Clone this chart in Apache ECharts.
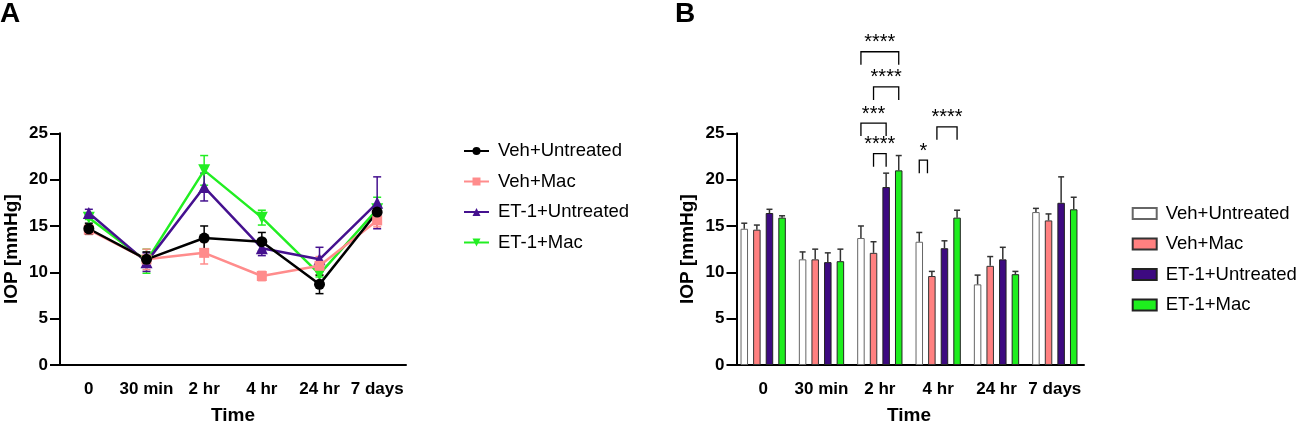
<!DOCTYPE html>
<html>
<head>
<meta charset="utf-8">
<script src="https://cdn.jsdelivr.net/npm/echarts@6/dist/echarts.min.js"></script>
<style>
  html, body { margin: 0; padding: 0; background: #fff; }
  #chart { width: 1299px; height: 423px; }
</style>
</head>
<body>
<div id="chart"></div>
<script>
// data (IOP in mmHg, mean and SEM)
const timePoints = ['0', '30 min', '2 hr', '4 hr', '24 hr', '7 days'];
const groupNames = ['Veh+Untreated', 'Veh+Mac', 'ET-1+Untreated', 'ET-1+Mac'];

const vehUntreated    = [14.7, 11.4, 13.7, 13.3, 8.7, 16.5];
const vehUntreatedSem = [0.6, 0.8, 1.3, 1.0, 1.0, 0.4];
const vehMac          = [14.6, 11.4, 12.1, 9.6, 10.7, 15.6];
const vehMacSem       = [0.5, 1.1, 1.2, 0.5, 1.0, 0.7];
const et1Untreated    = [16.4, 11.1, 19.2, 12.6, 11.4, 17.5];
const et1UntreatedSem = [0.4, 1.0, 1.5, 0.8, 1.3, 2.8];
const et1Mac          = [15.9, 11.2, 21.0, 15.9, 9.8, 16.8];
const et1MacSem       = [0.2, 1.3, 1.6, 0.8, 0.3, 1.3];

// significance brackets on panel B: [time index, from bar, to bar, level]
const brackets = [
  [2, 0, 3, 33.8],
  [2, 1, 3, 30.0],
  [2, 0, 2, 26.1],
  [2, 1, 2, 22.8],
  [3, 0, 0.65, 22.1],
  [3, 1.4, 3, 25.7]
];
const bracketLabels = ['****', '****', '***', '****', '*', '****'];

const means = [vehUntreated, vehMac, et1Untreated, et1Mac];
const sems = [vehUntreatedSem, vehMacSem, et1UntreatedSem, et1MacSem];

const FONT = '"Liberation Sans", Arial, sans-serif';
const lineColors = ['#000000', '#FF8C8C', '#45118F', '#22EE22'];
const barColors = ['#FFFFFF', '#FF8080', '#3D0A80', '#1EEE1E'];
const barBorders = ['#666666', '#333333', '#222222', '#222222'];
const symbols = ['circle', 'rect', 'triangle', 'triangle'];
const symbolSizes = [11, 10, 12, 12];
const symbolRotates = [0, 0, 0, 180];

const BAR_W = 7.5;
const BAR_GAP = 0.68;
const BAR_STEP = BAR_W * (1 + BAR_GAP);
const BRACKET_DROP = 1.4;

let chart = echarts.init(document.getElementById('chart'));

function axisX(gridIndex) {
  return {
    type: 'category', gridIndex: gridIndex, data: timePoints, boundaryGap: true,
    axisLine: { lineStyle: { color: '#000', width: 2 } },
    axisTick: { alignWithLabel: true, length: 8, lineStyle: { color: '#000', width: 2 } },
    axisLabel: { color: '#000', fontWeight: 'bold', fontSize: 17, fontFamily: FONT, margin: 16, interval: 0 },
    name: 'Time', nameLocation: 'middle', nameGap: 41,
    nameTextStyle: { color: '#000', fontWeight: 'bold', fontSize: 19, fontFamily: FONT }
  };
}
function axisY(gridIndex, offset) {
  return {
    type: 'value', gridIndex: gridIndex, min: 0, max: 25, interval: 5, offset: offset,
    splitLine: { show: false },
    axisLine: { show: true, lineStyle: { color: '#000', width: 2 } },
    axisTick: { show: true, length: 10, lineStyle: { color: '#000', width: 2 } },
    axisLabel: { color: '#000', fontWeight: 'bold', fontSize: 17, fontFamily: FONT, margin: 12 },
    name: 'IOP [mmHg]', nameLocation: 'middle', nameGap: 39, nameRotate: 90,
    nameTextStyle: { color: '#000', fontWeight: 'bold', fontSize: 19, fontFamily: FONT }
  };
}

// error bars for the line panel (both directions, with caps)
function lineErrRender(color) {
  return function (params, api) {
    let p1 = api.coord([api.value(0), api.value(1)]);
    let p2 = api.coord([api.value(0), api.value(2)]);
    let x = p1[0], w = 4;
    let style = { stroke: color, lineWidth: 1.5 };
    return {
      type: 'group', children: [
        { type: 'line', shape: { x1: x, y1: p1[1], x2: x, y2: p2[1] }, style: style },
        { type: 'line', shape: { x1: x - w, y1: p2[1], x2: x + w, y2: p2[1] }, style: style },
        { type: 'line', shape: { x1: x - w, y1: p1[1], x2: x + w, y2: p1[1] }, style: style }
      ]
    };
  };
}

// error bars for the bar panel (upward only)
function barErrRender(g) {
  return function (params, api) {
    let p1 = api.coord([api.value(0), api.value(1)]);
    let p2 = api.coord([api.value(0), api.value(2)]);
    let x = p1[0] + (g - 1.5) * BAR_STEP, w = 3;
    let style = { stroke: '#333', lineWidth: 1.5 };
    return {
      type: 'group', children: [
        { type: 'line', shape: { x1: x, y1: p1[1], x2: x, y2: p2[1] }, style: style },
        { type: 'line', shape: { x1: x - w, y1: p2[1], x2: x + w, y2: p2[1] }, style: style }
      ]
    };
  };
}

function bracketRender(params, api) {
  let cat = api.value(0);
  let top = api.coord([cat, api.value(3)]);
  let bot = api.coord([cat, api.value(3) - BRACKET_DROP]);
  let x1 = top[0] + (api.value(1) - 1.5) * BAR_STEP;
  let x2 = top[0] + (api.value(2) - 1.5) * BAR_STEP;
  return {
    type: 'group', children: [
      { type: 'polyline', shape: { points: [[x1, bot[1]], [x1, top[1]], [x2, top[1]], [x2, bot[1]]] },
        style: { stroke: '#000', lineWidth: 1.3, fill: null } },
      { type: 'text', x: (x1 + x2) / 2, y: top[1] - 9,
        style: { text: bracketLabels[params.dataIndex], font: '20px ' + FONT, fill: '#000',
                 align: 'center', verticalAlign: 'middle' } }
    ]
  };
}

let series = [];
// lines drawn from last group to first so the black line sits on top
for (let g = 3; g >= 0; g--) {
  series.push({
    type: 'custom', name: 'errA' + g, xAxisIndex: 0, yAxisIndex: 0,
    renderItem: lineErrRender(lineColors[g]), clip: false, encode: { x: 0, y: [1, 2] },
    data: timePoints.map((t, i) => [i, means[g][i] - sems[g][i], means[g][i] + sems[g][i]])
  });
  series.push({
    type: 'line', name: groupNames[g], xAxisIndex: 0, yAxisIndex: 0,
    data: means[g], symbol: symbols[g], symbolSize: symbolSizes[g], symbolRotate: symbolRotates[g],
    lineStyle: { color: lineColors[g], width: 2.5 },
    itemStyle: { color: lineColors[g] }
  });
}
for (let g = 0; g < 4; g++) {
  series.push({
    type: 'bar', name: 'B|' + groupNames[g], xAxisIndex: 1, yAxisIndex: 1,
    data: means[g], barWidth: BAR_W, barGap: (BAR_GAP * 100) + '%',
    itemStyle: { color: barColors[g], borderColor: barBorders[g], borderWidth: 1 }
  });
}
for (let g = 0; g < 4; g++) {
  series.push({
    type: 'custom', name: 'errB' + g, xAxisIndex: 1, yAxisIndex: 1,
    renderItem: barErrRender(g), clip: false, encode: { x: 0, y: [1, 2] }, z: 3,
    data: timePoints.map((t, i) => [i, means[g][i], means[g][i] + sems[g][i]])
  });
}
series.push({
  type: 'custom', name: 'brackets', xAxisIndex: 1, yAxisIndex: 1,
  renderItem: bracketRender, clip: false, encode: { x: 0, y: 3 }, z: 4,
  data: brackets
});

chart.setOption({
  animation: false,
  title: [
    { text: 'A', left: 0, top: 0.5, padding: 0, textStyle: { fontSize: 28, fontWeight: 'bold', color: '#000', fontFamily: FONT } },
    { text: 'B', left: 675, top: 0.5, padding: 0, textStyle: { fontSize: 28, fontWeight: 'bold', color: '#000', fontFamily: FONT } }
  ],
  grid: [
    { left: 60, top: 133.3, width: 346, height: 231.7, outerBoundsMode: 'none', containLabel: false },
    { left: 734, top: 133.3, width: 350, height: 231.7, outerBoundsMode: 'none', containLabel: false }
  ],
  xAxis: [axisX(0), axisX(1)],
  yAxis: [axisY(0, 0), axisY(1, -2.5)],
  legend: [
    {
      orient: 'vertical', left: 458, top: 136.5, itemWidth: 25, itemHeight: 10, itemGap: 11.5,
      textStyle: { fontSize: 18.5, color: '#000', fontFamily: FONT, padding: [0, 0, 0, 4] },
      data: groupNames
    },
    {
      orient: 'vertical', left: 1126.7, top: 199, itemWidth: 24, itemHeight: 11, itemGap: 11.5,
      icon: 'rect',
      textStyle: { fontSize: 18.5, color: '#000', fontFamily: FONT, padding: [0, 0, 0, 4] },
      formatter: function (name) { return name.split('|')[1]; },
      data: groupNames.map(n => 'B|' + n)
    }
  ],
  series: series
});
</script>
</body>
</html>
